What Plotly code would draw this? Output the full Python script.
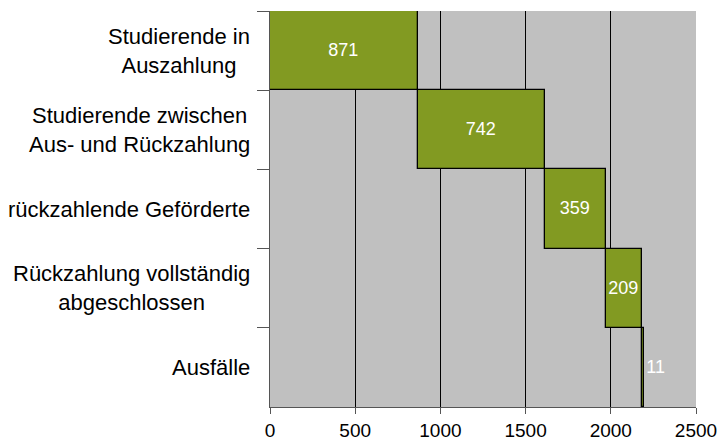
import plotly.graph_objects as go

categories = ["Studierende in<br>Auszahlung",
              "Studierende zwischen<br>Aus- und Rückzahlung",
              "rückzahlende Geförderte",
              "Rückzahlung vollständig<br>abgeschlossen",
              "Ausfälle"]
values = [871, 742, 359, 209, 11]
x_ticks = [0, 500, 1000, 1500, 2000, 2500]

bases = []
acc = 0
for v in values:
    bases.append(acc)
    acc += v

positions = ["inside"] * (len(values) - 1) + ["outside"]

fig = go.Figure(go.Bar(
    y=categories, x=values, base=bases, orientation="h",
    marker=dict(color="#829a22", line=dict(color="#000000", width=1.3)),
    text=[str(v) for v in values], textposition=positions,
    textangle=0, constraintext="none", insidetextanchor="middle",
    textfont=dict(color="white", size=18, family="Liberation Sans, Arial"),
    cliponaxis=False,
))

for c in categories:
    fig.add_annotation(xref="paper", yref="y", x=-0.042, y=c, xanchor="right",
                       yanchor="middle", align="center", text=c, showarrow=False,
                       font=dict(size=22, color="black", family="Liberation Sans, Arial"))

fig.update_layout(
    width=720, height=442,
    margin=dict(l=270, r=24, t=11, b=35, autoexpand=False),
    plot_bgcolor="#c0c0c0", paper_bgcolor="white",
    bargap=0, showlegend=False,
    font=dict(family="Liberation Sans, Arial", color="black"),
)
fig.update_xaxes(range=[0, 2500], tickvals=x_ticks, showgrid=True, gridcolor="#000000",
                 gridwidth=1, zeroline=False, showline=True, linecolor="#555555",
                 ticks="outside", ticklen=6, tickcolor="#555555", automargin=False,
                 tickfont=dict(size=19, color="black"))
fig.update_yaxes(autorange="reversed", showticklabels=False, tickson="boundaries",
                 ticks="outside", ticklen=12, tickcolor="#555555", showgrid=False,
                 automargin=False,
                 showline=True, linecolor="#555555", zeroline=False)

fig.write_html("out.html", config={"displayModeBar": False},
               post_script="document.body.style.margin='0';document.body.style.overflow='hidden';")
